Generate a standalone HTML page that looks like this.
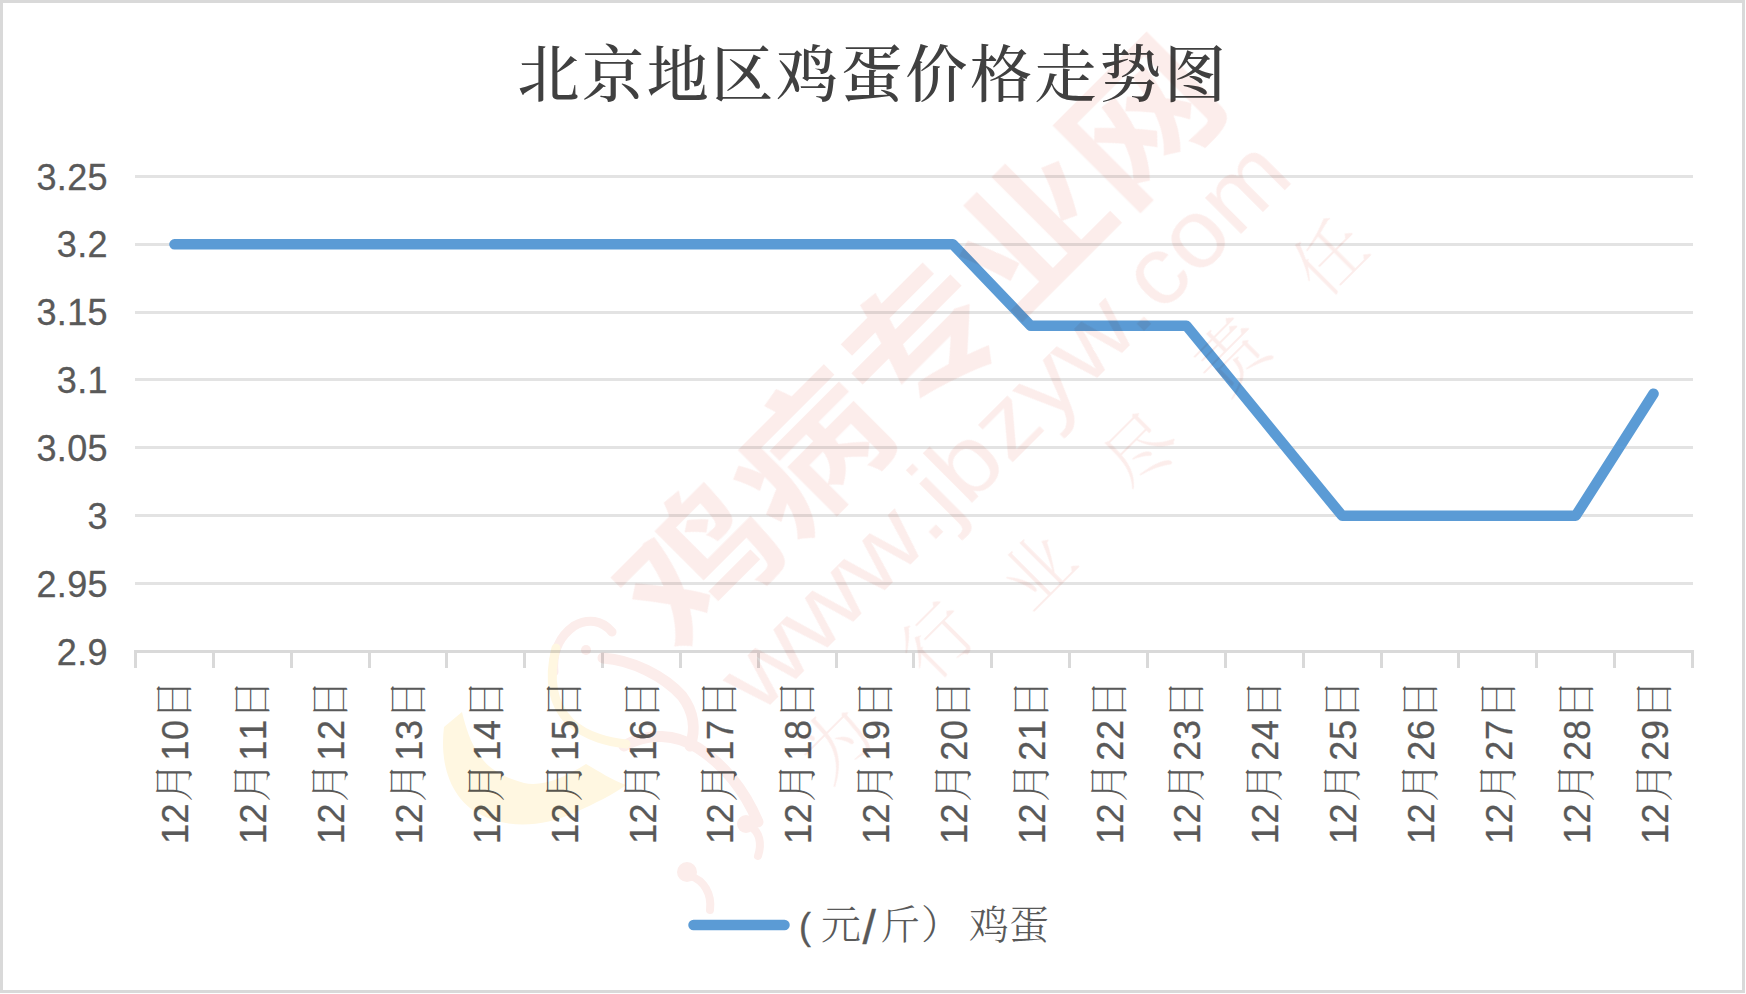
<!DOCTYPE html>
<html lang="zh-CN">
<head>
<meta charset="utf-8">
<title>北京地区鸡蛋价格走势图</title>
<style>
html,body{margin:0;padding:0;background:#fff;}
body{width:1746px;height:994px;overflow:hidden;position:relative;}
svg{position:absolute;left:0;top:0;display:block;}
.ax{font-family:"Liberation Sans","Noto Serif CJK SC",sans-serif;font-size:36px;fill:#595959;font-weight:400;font-kerning:none;stroke:#595959;stroke-width:0.3px;}
.cjk{font-family:"Liberation Serif","Noto Serif CJK SC",serif;font-weight:300;font-size:40px;stroke:none;}
.title{font-family:"Liberation Serif","Noto Serif CJK SC",serif;font-weight:500;font-size:62px;letter-spacing:2.65px;fill:#404040;}
.wm1{font-family:"Liberation Sans","Noto Sans CJK SC",sans-serif;font-weight:700;}
.wm2{font-family:"Liberation Sans",sans-serif;font-weight:400;}
.wm3{font-family:"Liberation Serif","Noto Serif CJK SC",serif;font-weight:300;}
</style>
</head>
<body>
<svg width="1746" height="994" viewBox="0 0 1746 994">
<rect x="0" y="0" width="1746" height="994" fill="#ffffff"/>
<rect x="1.5" y="1.5" width="1742" height="990" fill="#ffffff" stroke="#D9D9D9" stroke-width="3"/>

<g fill="#E3E3E3">
<rect x="135" y="582" width="1558" height="3"/>
<rect x="135" y="514" width="1558" height="3"/>
<rect x="135" y="446" width="1558" height="3"/>
<rect x="135" y="378" width="1558" height="3"/>
<rect x="135" y="311" width="1558" height="3"/>
<rect x="135" y="243" width="1558" height="3"/>
<rect x="135" y="175" width="1558" height="3"/>
</g>
<g fill="#D9D9D9">
<rect x="134" y="650" width="1560" height="3"/>
<rect x="134" y="650" width="3" height="18"/>
<rect x="212" y="650" width="3" height="18"/>
<rect x="290" y="650" width="3" height="18"/>
<rect x="368" y="650" width="3" height="18"/>
<rect x="445" y="650" width="3" height="18"/>
<rect x="523" y="650" width="3" height="18"/>
<rect x="601" y="650" width="3" height="18"/>
<rect x="679" y="650" width="3" height="18"/>
<rect x="757" y="650" width="3" height="18"/>
<rect x="835" y="650" width="3" height="18"/>
<rect x="912" y="650" width="3" height="18"/>
<rect x="990" y="650" width="3" height="18"/>
<rect x="1068" y="650" width="3" height="18"/>
<rect x="1146" y="650" width="3" height="18"/>
<rect x="1224" y="650" width="3" height="18"/>
<rect x="1302" y="650" width="3" height="18"/>
<rect x="1380" y="650" width="3" height="18"/>
<rect x="1457" y="650" width="3" height="18"/>
<rect x="1535" y="650" width="3" height="18"/>
<rect x="1613" y="650" width="3" height="18"/>
<rect x="1691" y="650" width="3" height="18"/>
</g>
<text class="title" x="873" y="97" text-anchor="middle">北京地区鸡蛋价格走势图</text>
<g class="ax" text-anchor="end" letter-spacing="0.3">
<text x="107.8" y="664.50">2.9</text>
<text x="107.8" y="596.64">2.95</text>
<text x="107.8" y="528.79">3</text>
<text x="107.8" y="460.93">3.05</text>
<text x="107.8" y="393.07">3.1</text>
<text x="107.8" y="325.22">3.15</text>
<text x="107.8" y="257.36">3.2</text>
<text x="107.8" y="189.50">3.25</text>
</g>
<g class="ax">
<text transform="translate(188.43,844) rotate(-90)" letter-spacing="0.6">12<tspan class="cjk" dx="0.8">月</tspan><tspan dx="0.7">10</tspan><tspan class="cjk">日</tspan></text>
<text transform="translate(266.27,844) rotate(-90)" letter-spacing="0.6">12<tspan class="cjk" dx="0.8">月</tspan><tspan dx="0.7">11</tspan><tspan class="cjk">日</tspan></text>
<text transform="translate(344.12,844) rotate(-90)" letter-spacing="0.6">12<tspan class="cjk" dx="0.8">月</tspan><tspan dx="0.7">12</tspan><tspan class="cjk">日</tspan></text>
<text transform="translate(421.97,844) rotate(-90)" letter-spacing="0.6">12<tspan class="cjk" dx="0.8">月</tspan><tspan dx="0.7">13</tspan><tspan class="cjk">日</tspan></text>
<text transform="translate(499.82,844) rotate(-90)" letter-spacing="0.6">12<tspan class="cjk" dx="0.8">月</tspan><tspan dx="0.7">14</tspan><tspan class="cjk">日</tspan></text>
<text transform="translate(577.67,844) rotate(-90)" letter-spacing="0.6">12<tspan class="cjk" dx="0.8">月</tspan><tspan dx="0.7">15</tspan><tspan class="cjk">日</tspan></text>
<text transform="translate(655.52,844) rotate(-90)" letter-spacing="0.6">12<tspan class="cjk" dx="0.8">月</tspan><tspan dx="0.7">16</tspan><tspan class="cjk">日</tspan></text>
<text transform="translate(733.38,844) rotate(-90)" letter-spacing="0.6">12<tspan class="cjk" dx="0.8">月</tspan><tspan dx="0.7">17</tspan><tspan class="cjk">日</tspan></text>
<text transform="translate(811.22,844) rotate(-90)" letter-spacing="0.6">12<tspan class="cjk" dx="0.8">月</tspan><tspan dx="0.7">18</tspan><tspan class="cjk">日</tspan></text>
<text transform="translate(889.07,844) rotate(-90)" letter-spacing="0.6">12<tspan class="cjk" dx="0.8">月</tspan><tspan dx="0.7">19</tspan><tspan class="cjk">日</tspan></text>
<text transform="translate(966.92,844) rotate(-90)" letter-spacing="0.6">12<tspan class="cjk" dx="0.8">月</tspan><tspan dx="0.7">20</tspan><tspan class="cjk">日</tspan></text>
<text transform="translate(1044.78,844) rotate(-90)" letter-spacing="0.6">12<tspan class="cjk" dx="0.8">月</tspan><tspan dx="0.7">21</tspan><tspan class="cjk">日</tspan></text>
<text transform="translate(1122.62,844) rotate(-90)" letter-spacing="0.6">12<tspan class="cjk" dx="0.8">月</tspan><tspan dx="0.7">22</tspan><tspan class="cjk">日</tspan></text>
<text transform="translate(1200.47,844) rotate(-90)" letter-spacing="0.6">12<tspan class="cjk" dx="0.8">月</tspan><tspan dx="0.7">23</tspan><tspan class="cjk">日</tspan></text>
<text transform="translate(1278.32,844) rotate(-90)" letter-spacing="0.6">12<tspan class="cjk" dx="0.8">月</tspan><tspan dx="0.7">24</tspan><tspan class="cjk">日</tspan></text>
<text transform="translate(1356.17,844) rotate(-90)" letter-spacing="0.6">12<tspan class="cjk" dx="0.8">月</tspan><tspan dx="0.7">25</tspan><tspan class="cjk">日</tspan></text>
<text transform="translate(1434.02,844) rotate(-90)" letter-spacing="0.6">12<tspan class="cjk" dx="0.8">月</tspan><tspan dx="0.7">26</tspan><tspan class="cjk">日</tspan></text>
<text transform="translate(1511.88,844) rotate(-90)" letter-spacing="0.6">12<tspan class="cjk" dx="0.8">月</tspan><tspan dx="0.7">27</tspan><tspan class="cjk">日</tspan></text>
<text transform="translate(1589.72,844) rotate(-90)" letter-spacing="0.6">12<tspan class="cjk" dx="0.8">月</tspan><tspan dx="0.7">28</tspan><tspan class="cjk">日</tspan></text>
<text transform="translate(1667.57,844) rotate(-90)" letter-spacing="0.6">12<tspan class="cjk" dx="0.8">月</tspan><tspan dx="0.7">29</tspan><tspan class="cjk">日</tspan></text>
</g>
<polyline points="174.43,244.36 252.27,244.36 330.12,244.36 407.97,244.36 485.82,244.36 563.67,244.36 641.52,244.36 719.38,244.36 797.22,244.36 875.07,244.36 952.92,244.36 1030.78,325.79 1108.62,325.79 1186.47,325.79 1264.32,420.79 1342.17,515.79 1420.02,515.79 1497.88,515.79 1575.72,515.79 1653.57,393.64" fill="none" stroke="#5B9BD5" stroke-width="10.5" stroke-linecap="round" stroke-linejoin="round"/>
<line x1="693.5" y1="925" x2="784.5" y2="925" stroke="#5B9BD5" stroke-width="10.5" stroke-linecap="round"/>
<text class="ax" y="938.7"><tspan x="799">( </tspan><tspan class="cjk" x="821">元</tspan><tspan x="862.4" y="944" font-size="48">/</tspan><tspan class="cjk" x="880" y="938.7">斤</tspan><tspan class="cjk" x="921">） </tspan><tspan class="cjk" x="969">鸡蛋</tspan></text>
<g id="wm" style="mix-blend-mode:multiply">
<g fill="none" stroke="#FCEDEB" stroke-linecap="round" stroke-linejoin="round">
<path d="M612 632 C602 620 588 618 574 626 C560 636 552 652 554 672" stroke-width="9"/>
<path d="M603 658 C632 660 664 676 682 696 C694 712 696 730 690 746" stroke-width="11"/>
<path d="M624 746 C648 732 676 734 698 748 C726 766 746 794 758 822" stroke-width="11"/>
<path d="M750 826 C760 832 762 844 758 856" stroke-width="8"/>
<path d="M690 876 C704 880 712 894 710 910" stroke-width="8"/>
</g>
<g fill="#FCEDEB"><circle cx="586" cy="650" r="5"/><circle cx="746" cy="824" r="9"/><circle cx="687" cy="872" r="10"/></g>
<path d="M444 727 C440 760 448 790 470 808 C500 830 540 828 574 813 C596 803 614 794 626 785 C612 780 600 772 586 764 C564 778 542 787 524 783 C502 777 488 768 480 756 C470 742 466 728 462 712 Z" fill="#FFF7E1"/>
<path d="M556 648 C548 680 552 704 570 722 C588 738 610 742 626 744" fill="none" stroke="#FFF7E1" stroke-width="9" stroke-linecap="round"/>
<g transform="rotate(-45)" fill="#FCEDEB">
<text class="wm1" font-size="140" transform="translate(17,944) scale(1.119,1)">鸡病专业网</text>
<text class="wm2" font-size="96" y="1043"><tspan x="30" textLength="243" lengthAdjust="spacingAndGlyphs">www</tspan><tspan x="270.8" textLength="324.2" lengthAdjust="spacingAndGlyphs">.jbzyw.</tspan><tspan x="598.5" textLength="190.8" lengthAdjust="spacingAndGlyphs">com</tspan></text>
<text class="wm3" font-size="70" text-anchor="middle"><tspan x="65" y="1142">为</tspan><tspan x="210" y="1142">行</tspan><tspan x="330" y="1163">业</tspan><tspan x="487" y="1151">尽</tspan><tspan x="619" y="1148">责</tspan><tspan x="759" y="1148">任</tspan></text>
</g>
</g>
</svg>
</body>
</html>
